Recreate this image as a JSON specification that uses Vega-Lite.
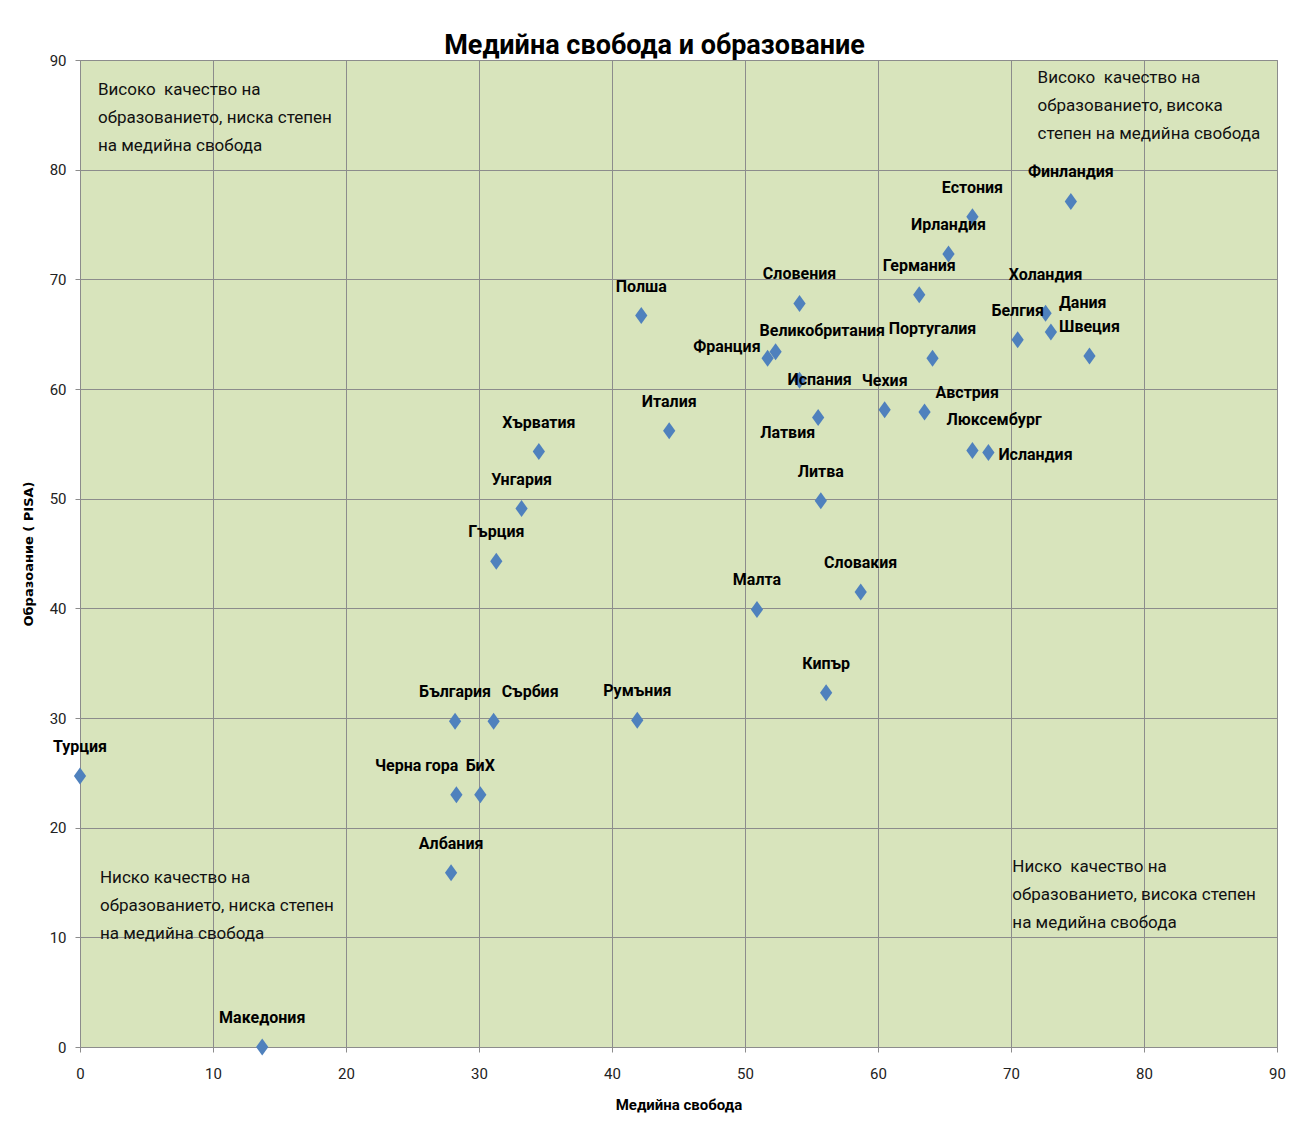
{
  "$schema": "https://vega.github.io/schema/vega-lite/v6.json",
  "autosize": "none",
  "width": 1197,
  "height": 987,
  "padding": {"left": 80, "top": 60, "right": 22, "bottom": 79},
  "background": "white",
  "title": {
    "text": "Медийна свобода и образование",
    "font": "Roboto, sans-serif",
    "fontSize": 27,
    "fontWeight": "bold",
    "color": "#000000",
    "anchor": "middle",
    "dx": -24,
    "offset": -7
  },
  "datasets": {
    "pts": [
      {"country": "Турция", "media": 0, "pisa": 24.7},
      {"country": "Македония", "media": 13.7, "pisa": 0},
      {"country": "Албания", "media": 27.9, "pisa": 15.9},
      {"country": "Черна гора", "media": 28.3, "pisa": 23.0},
      {"country": "БиХ", "media": 30.1, "pisa": 23.0},
      {"country": "България", "media": 28.2, "pisa": 29.7},
      {"country": "Сърбия", "media": 31.1, "pisa": 29.7},
      {"country": "Румъния", "media": 41.9, "pisa": 29.8},
      {"country": "Гърция", "media": 31.3, "pisa": 44.3},
      {"country": "Унгария", "media": 33.2, "pisa": 49.1},
      {"country": "Хърватия", "media": 34.5, "pisa": 54.3},
      {"country": "Италия", "media": 44.3, "pisa": 56.2},
      {"country": "Полша", "media": 42.2, "pisa": 66.7},
      {"country": "Малта", "media": 50.9, "pisa": 39.9},
      {"country": "Кипър", "media": 56.1, "pisa": 32.3},
      {"country": "Словакия", "media": 58.7, "pisa": 41.5},
      {"country": "Литва", "media": 55.7, "pisa": 49.8},
      {"country": "Латвия", "media": 55.5, "pisa": 57.4},
      {"country": "Испания", "media": 54.1, "pisa": 60.8},
      {"country": "Франция", "media": 51.7, "pisa": 62.8},
      {"country": "Великобритания", "media": 52.3, "pisa": 63.4},
      {"country": "Словения", "media": 54.1, "pisa": 67.8},
      {"country": "Чехия", "media": 60.5, "pisa": 58.1},
      {"country": "Австрия", "media": 63.5, "pisa": 57.9},
      {"country": "Португалия", "media": 64.1, "pisa": 62.8},
      {"country": "Германия", "media": 63.1, "pisa": 68.6},
      {"country": "Ирландия", "media": 65.3, "pisa": 72.3},
      {"country": "Естония", "media": 67.1, "pisa": 75.7},
      {"country": "Финландия", "media": 74.5, "pisa": 77.1},
      {"country": "Люксембург", "media": 67.1, "pisa": 54.4},
      {"country": "Исландия", "media": 68.3, "pisa": 54.2},
      {"country": "Белгия", "media": 70.5, "pisa": 64.5},
      {"country": "Холандия", "media": 72.6, "pisa": 66.9},
      {"country": "Дания", "media": 73.0, "pisa": 65.2},
      {"country": "Швеция", "media": 75.9, "pisa": 63.0}
    ],
    "notes": [
      {"media": 1.35, "pisa": 87.3, "note": "Високо\u00a0 качество на\nобразованието, ниска степен\nна медийна свобода"},
      {"media": 72.0, "pisa": 88.4, "note": "Високо\u00a0 качество на\nобразованието, висока\nстепен на медийна свобода"},
      {"media": 1.5, "pisa": 15.4, "note": "Ниско качество на\nобразованието, ниска степен\nна медийна свобода"},
      {"media": 70.1, "pisa": 16.4, "note": "Ниско\u00a0 качество на\nобразованието, висока степен\nна медийна свобода"}
    ]
  },
  "config": {
    "view": {"fill": "#D8E4BC", "stroke": "#888888", "strokeWidth": 1},
    "axis": {
      "grid": true,
      "gridColor": "#8C8C8C",
      "gridWidth": 1,
      "domainColor": "#8C8C8C",
      "tickColor": "#8C8C8C",
      "tickSize": 5,
      "labelFlush": false,
      "labelFont": "Roboto, sans-serif",
      "labelFontSize": 15,
      "labelColor": "#222222",
      "titleFont": "Roboto, sans-serif",
      "titleFontSize": 15,
      "titleFontWeight": "bold",
      "titleColor": "#000000"
    },
    "text": {"font": "Roboto, sans-serif"}
  },
  "encoding": {
    "x": {
      "field": "media",
      "type": "quantitative",
      "scale": {"domain": [0, 90], "nice": false, "zero": false},
      "axis": {"title": "Медийна свобода", "values": [0,10,20,30,40,50,60,70,80,90], "labelPadding": 14, "titlePadding": 16}
    },
    "y": {
      "field": "pisa",
      "type": "quantitative",
      "scale": {"domain": [0, 90], "nice": false, "zero": false},
      "axis": {"title": "Образоание ( PISA)", "values": [0,10,20,30,40,50,60,70,80,90], "labelPadding": 9, "titlePadding": 14, "titleFont": "DejaVu Sans, sans-serif", "titleFontSize": 13}
    }
  },
  "layer": [
    {
      "data": {"name": "pts"},
      "mark": {"type": "point", "filled": true, "opacity": 1, "color": "#4F81BD", "shape": "M0,-1L0.72,0L0,1L-0.72,0Z", "size": 289}
    },
    {
      "data": {"name": "pts"},
      "transform": [{"filter": {"field": "country", "oneOf": ["Турция","Македония","Албания","БиХ","България","Румъния","Гърция","Унгария","Хърватия","Италия","Полша","Малта","Кипър","Словакия","Литва","Словения","Чехия","Португалия","Германия","Ирландия","Естония","Финландия","Белгия","Швеция"]}}],
      "mark": {"type": "text", "fontSize": 16, "fontWeight": "bold", "color": "#000000", "align": "center", "baseline": "middle", "dy": -29},
      "encoding": {"text": {"field": "country"}}
    },
    {
      "data": {"name": "pts"},
      "transform": [{"filter": {"field": "country", "equal": "Холандия"}}],
      "mark": {"type": "text", "fontSize": 16, "fontWeight": "bold", "color": "#000000", "align": "center", "baseline": "middle", "dy": -38},
      "encoding": {"text": {"field": "country"}}
    },
    {
      "data": {"name": "pts"},
      "transform": [{"filter": {"field": "country", "equal": "Черна гора"}}],
      "mark": {"type": "text", "fontSize": 16, "fontWeight": "bold", "color": "#000000", "align": "right", "baseline": "middle", "dx": 2, "dy": -29},
      "encoding": {"text": {"field": "country"}}
    },
    {
      "data": {"name": "pts"},
      "transform": [{"filter": {"field": "country", "equal": "Франция"}}],
      "mark": {"type": "text", "fontSize": 16, "fontWeight": "bold", "color": "#000000", "align": "right", "baseline": "middle", "dx": -7, "dy": -11},
      "encoding": {"text": {"field": "country"}}
    },
    {
      "data": {"name": "pts"},
      "transform": [{"filter": {"field": "country", "equal": "Латвия"}}],
      "mark": {"type": "text", "fontSize": 16, "fontWeight": "bold", "color": "#000000", "align": "right", "baseline": "middle", "dx": -3, "dy": 15},
      "encoding": {"text": {"field": "country"}}
    },
    {
      "data": {"name": "pts"},
      "transform": [{"filter": {"field": "country", "oneOf": ["Сърбия", "Дания"]}}],
      "mark": {"type": "text", "fontSize": 16, "fontWeight": "bold", "color": "#000000", "align": "left", "baseline": "middle", "dx": 8, "dy": -29},
      "encoding": {"text": {"field": "country"}}
    },
    {
      "data": {"name": "pts"},
      "transform": [{"filter": {"field": "country", "equal": "Великобритания"}}],
      "mark": {"type": "text", "fontSize": 16, "fontWeight": "bold", "color": "#000000", "align": "left", "baseline": "middle", "dx": -16, "dy": -21},
      "encoding": {"text": {"field": "country"}}
    },
    {
      "data": {"name": "pts"},
      "transform": [{"filter": {"field": "country", "equal": "Австрия"}}],
      "mark": {"type": "text", "fontSize": 16, "fontWeight": "bold", "color": "#000000", "align": "left", "baseline": "middle", "dx": 11, "dy": -19},
      "encoding": {"text": {"field": "country"}}
    },
    {
      "data": {"name": "pts"},
      "transform": [{"filter": {"field": "country", "equal": "Люксембург"}}],
      "mark": {"type": "text", "fontSize": 16, "fontWeight": "bold", "color": "#000000", "align": "left", "baseline": "middle", "dx": -26, "dy": -30},
      "encoding": {"text": {"field": "country"}}
    },
    {
      "data": {"name": "pts"},
      "transform": [{"filter": {"field": "country", "equal": "Исландия"}}],
      "mark": {"type": "text", "fontSize": 16, "fontWeight": "bold", "color": "#000000", "align": "left", "baseline": "middle", "dx": 10, "dy": 2},
      "encoding": {"text": {"field": "country"}}
    },
    {
      "data": {"name": "pts"},
      "transform": [{"filter": {"field": "country", "equal": "Испания"}}],
      "mark": {"type": "text", "fontSize": 16, "fontWeight": "bold", "color": "#000000", "align": "left", "baseline": "middle", "dx": -12, "dy": 0},
      "encoding": {"text": {"field": "country"}}
    },
    {
      "data": {"name": "notes"},
      "mark": {"type": "text", "fontSize": 17, "color": "#111111", "align": "left", "baseline": "middle", "lineBreak": "\n", "lineHeight": 28},
      "encoding": {"text": {"field": "note"}}
    }
  ]
}
